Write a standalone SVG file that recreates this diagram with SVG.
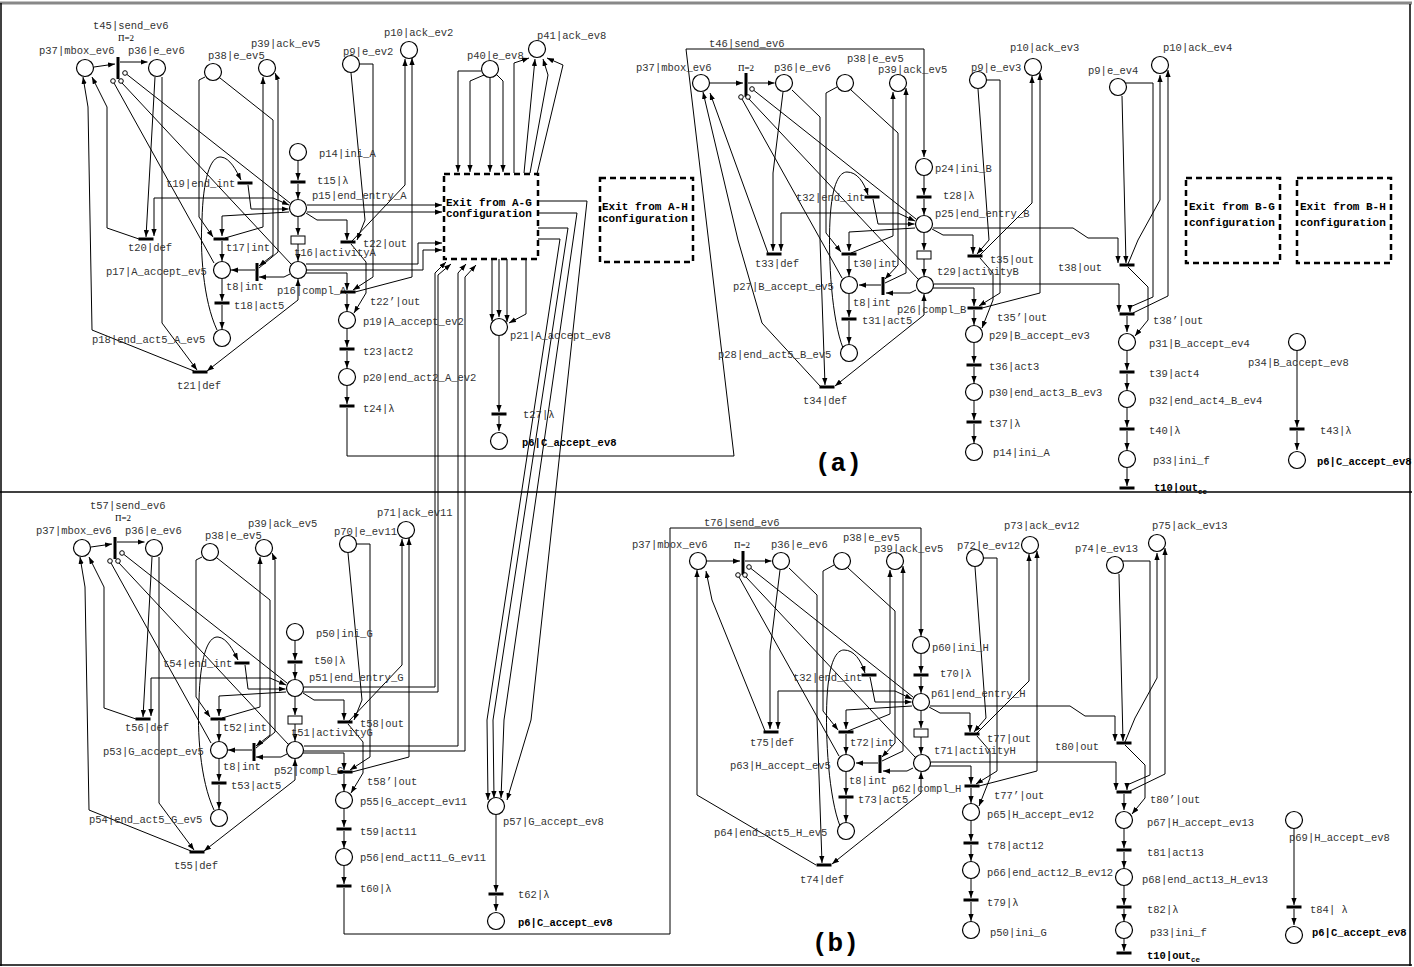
<svg xmlns="http://www.w3.org/2000/svg" width="1414" height="967" viewBox="0 0 1414 967">
<defs>
<marker id="ar" viewBox="0 0 8 6" refX="8" refY="3" markerWidth="7" markerHeight="5.5" markerUnits="userSpaceOnUse" orient="auto"><path d="M0,0L8,3L0,6z" fill="#000"/></marker>
<marker id="as" viewBox="0 0 8 6" refX="8" refY="3" markerWidth="7" markerHeight="5.5" markerUnits="userSpaceOnUse" orient="auto-start-reverse"><path d="M0,0L8,3L0,6z" fill="#000"/></marker>
</defs>
<style>
.c path{fill:none;stroke:#000;stroke-width:1;marker-end:url(#ar)}
.c path.n{marker-end:none}
.c path.aa{marker-start:url(#as)}
circle.p{fill:#fff;stroke:#000;stroke-width:1.2}
circle.i{fill:#fff;stroke:#000;stroke-width:1}
rect.t{fill:#000}
rect.r{fill:#fff;stroke:#000;stroke-width:1}
text{font-family:"Liberation Mono","DejaVu Sans Mono",monospace;font-size:10.5px;fill:#333}
text.b{font-weight:bold;fill:#000}
text.pi{font-family:"Liberation Serif",serif;font-size:9px;fill:#000}
text.x{font-weight:bold;font-size:11px;fill:#000}
text.big{font-weight:bold;font-size:26px;fill:#000}
.box{fill:none;stroke:#000;stroke-width:2.5;stroke-dasharray:6,4}
.fr{stroke:#000;stroke-width:1.5}
</style>
<rect width="1414" height="967" fill="#fff"/>
<g id="frame">
<line x1="0" y1="3" x2="1412" y2="3" stroke="#888" stroke-width="3"/>
<line class="fr" x1="1" y1="3" x2="1" y2="966"/>
<line class="fr" x1="1410" y1="4" x2="1410" y2="966"/>
<line class="fr" x1="0" y1="492" x2="1412" y2="492"/>
<line class="fr" x1="0" y1="965" x2="1412" y2="965"/>
<text class="big" x="815" y="471">(a)</text>
<text class="big" x="812" y="951">(b)</text>
</g>

<g id="connectors" class="c">
<path d="M347,408 L347,456 L734,456 L686,49 L924,49 L924,157"/>
<path d="M344,888 L344,934 L670,934 L670,528 L921,528 L921,636"/>
<path d="M307,205 L442,205"/>
<path d="M307,212 L442,212"/>
<path d="M306,264 L418,264 L418,243 L442,243"/>
<path d="M306,270 L423,270 L423,250 L442,250"/>
<path d="M481,71 L458,71 L458,172"/>
<path d="M484,75 L470,81 L470,172"/>
<path d="M490,78 L490,172"/>
<path d="M497,75 L503,81 L503,172"/>
<path d="M514,173 L514,63 L529,58"/>
<path d="M524,173 L535,59"/>
<path d="M530,173 L548,75 L543,59"/>
<path d="M537,174 L563,65 L547,58"/>
<path d="M492,259 L492,321"/>
<path d="M499,259 L499,317"/>
<path d="M507,259 L507,322"/>
<path d="M526,259 L526,314 L509,323"/>
<path d="M499,336 L499,412"/>
<path d="M499,416 L499,431"/>
<path d="M304,687 L435,687 L435,273 L446,262"/>
<path d="M303,692 L438,692 L438,275 L451,264"/>
<path d="M304,746 L458,746 L458,273 L466,264"/>
<path d="M304,751 L465,751 L465,277 L476,265"/>
<path d="M538,201 L587,201 L531,720 L507,800"/>
<path d="M538,213 L577,213 L504,720 L501,798"/>
<path d="M538,228 L568,228 L493,720 L494,798"/>
<path d="M538,239 L560,239 L487,720 L488,800"/>
</g>

<g id="boxes">
<g id="box-AG"><rect class="box" x="444" y="174" width="94" height="85"/><text class="x" x="446" y="205.5">Exit from A-G</text><text class="x" x="446" y="217">configuration</text></g>
<g id="box-AH"><rect class="box" x="600" y="178" width="93" height="84"/><text class="x" x="602" y="209.5">Exit from A-H</text><text class="x" x="602" y="221.5">configuration</text></g>
<g id="box-BG"><rect class="box" x="1186" y="178" width="94" height="85"/><text class="x" x="1189" y="209.5">Exit from B-G</text><text class="x" x="1189" y="225.5">configuration</text></g>
<g id="box-BH"><rect class="box" x="1297" y="178" width="94" height="85"/><text class="x" x="1300" y="209.5">Exit from B-H</text><text class="x" x="1300" y="225.5">configuration</text></g>
</g>

<!-- NET A -->
<g id="netA">
<g id="A-connectors" class="c">
<path d="M94,67 L115,64"/>
<path d="M120,62 L147.5,62"/>
<path class="n" d="M290,203 L127,74.5"/>
<path class="n" d="M214,263 L114,83"/>
<path class="n" d="M291,264 L122,83"/>
<path d="M155,77 L146,237"/>
<path d="M162,77 L162,323 L197,370"/>
<path d="M139,239 L107,228 L107,107 L92,77"/>
<path d="M194,371 L92,330 L88,107 L83,77"/>
<path d="M205,77 L199,80 L199,217 L213,237"/>
<path d="M220,78 L273,120 L273,255 L259,266"/>
<path d="M225,238 L263,227 L263,77"/>
<path d="M259,268 L278,252 L278,80 L275,73"/>
<path d="M289,212 L222,216 L222,236"/>
<path class="aa" d="M289,205 L273,198 L154,198 L154,236"/>
<path d="M248,185 L251,209 L288.5,209"/>
<path d="M217,330 C203,300 200,250 202,220 C203,180 210,156 221,157 C230,158 236,170 241,180"/>
<path d="M298,161 L298,180"/>
<path d="M298,184 L298,199"/>
<path d="M298,217 L298,235"/>
<path d="M298,244 L298,261"/>
<path d="M290,274 L284,277 L259,277"/>
<path d="M255,270 L231,270"/>
<path d="M222,241 L222,261"/>
<path d="M222,279 L222,301"/>
<path d="M222,305 L222,329"/>
<path class="aa" d="M298,279 L298,300 L207,371"/>
<path d="M351,73 L365,220 L357,240"/>
<path d="M360,64 L373,64 L373,277 L353,290"/>
<path d="M352,241 L405,185 L405,59"/>
<path d="M355,292 L412,277 L412,58"/>
<path d="M306,213 L317,220 L347,220 L347,240"/>
<path d="M351,244 L366,262 L366,293 L354,313"/>
<path d="M306,273 L347,273 L347,290"/>
<path d="M347,294 L347,311"/>
<path d="M347,329 L347,347"/>
<path d="M347,351 L347,368"/>
<path d="M347,386 L347,404"/>
</g>
<g id="A-p37"><circle class="p" cx="85" cy="68" r="8.5"/><text x="39" y="54">p37|mbox_ev6</text></g>
<g id="A-t45"><rect class="t" x="116.5" y="57" width="3" height="22"/><circle class="i" cx="113" cy="81" r="2.3"/><circle class="i" cx="121" cy="81" r="2.3"/><circle class="i" cx="125" cy="73" r="2.3"/><text x="93" y="28.5">t45|send_ev6</text><text class="pi" x="118" y="41">Π=2</text></g>
<g id="A-p36"><circle class="p" cx="157" cy="68" r="8.5"/><text x="128" y="54">p36|e_ev6</text></g>
<g id="A-p38"><circle class="p" cx="213" cy="72" r="8.5"/><text x="208" y="58.5">p38|e_ev5</text></g>
<g id="A-p39"><circle class="p" cx="267" cy="68" r="8.5"/><text x="251" y="46.5">p39|ack_ev5</text></g>
<g id="A-p9"><circle class="p" cx="351" cy="64" r="8.5"/><text x="343" y="54.5">p9|e_ev2</text></g>
<g id="A-p10"><circle class="p" cx="409" cy="50" r="8.5"/><text x="384" y="35.5">p10|ack_ev2</text></g>
<g id="A-p40"><circle class="p" cx="490" cy="69" r="8.5"/><text x="467" y="59">p40|e_ev8</text></g>
<g id="A-p41"><circle class="p" cx="537" cy="49" r="8.5"/><text x="537" y="38.5">p41|ack_ev8</text></g>
<g id="A-p14"><circle class="p" cx="298" cy="152" r="8.5"/><text x="319" y="156.5">p14|ini_A</text></g>
<g id="A-t15"><rect class="t" x="290.5" y="180.5" width="15" height="3"/><text x="317" y="183.5">t15|λ</text></g>
<g id="A-p15"><circle class="p" cx="298" cy="208" r="8.5"/><text x="312" y="198.5">p15|end_entry_A</text></g>
<g id="A-t19"><rect class="t" x="237.5" y="181.5" width="15" height="3"/><text x="166" y="186.5">t19|end_int</text></g>
<g id="A-t20"><rect class="t" x="138.5" y="237.5" width="15" height="3"/><text x="128" y="250.5">t20|def</text></g>
<g id="A-t17"><rect class="t" x="213.5" y="237.5" width="15" height="3"/><text x="226" y="250.5">t17|int</text></g>
<g id="A-t16"><rect class="r" x="291" y="236" width="14" height="8"/><text x="294" y="255.5">t16|activityA</text></g>
<g id="A-t22"><rect class="t" x="340.5" y="240.5" width="15" height="3"/><text x="363" y="246.5">t22|out</text></g>
<g id="A-p17"><circle class="p" cx="222" cy="270" r="8.5"/><text x="106" y="274.5">p17|A_accept_ev5</text></g>
<g id="A-t8"><rect class="t" x="255.5" y="263" width="3" height="18"/><text x="226" y="289.5">t8|int</text></g>
<g id="A-p16"><circle class="p" cx="298" cy="270" r="8.5"/><text x="277" y="293.5">p16|compl_A</text></g>
<g id="A-t22p"><rect class="t" x="340.5" y="290.5" width="15" height="3"/><text x="370" y="304.5">t22’|out</text></g>
<g id="A-t18"><rect class="t" x="214.5" y="301.5" width="15" height="3"/><text x="234" y="308.5">t18|act5</text></g>
<g id="A-p18"><circle class="p" cx="222" cy="338" r="8.5"/><text x="92" y="342.5">p18|end_act5_A_ev5</text></g>
<g id="A-t21"><rect class="t" x="192.5" y="370.5" width="15" height="3"/><text x="177" y="388.5">t21|def</text></g>
<g id="A-p19"><circle class="p" cx="347" cy="320" r="8.5"/><text x="363" y="324.5">p19|A_accept_ev2</text></g>
<g id="A-t23"><rect class="t" x="339.5" y="347.5" width="15" height="3"/><text x="363" y="354.5">t23|act2</text></g>
<g id="A-p20"><circle class="p" cx="347" cy="377" r="8.5"/><text x="363" y="380.5">p20|end_act2_A_ev2</text></g>
<g id="A-t24"><rect class="t" x="339.5" y="404.5" width="15" height="3"/><text x="363" y="411.5">t24|λ</text></g>
<g id="A-p21"><circle class="p" cx="499" cy="327" r="8.5"/><text x="510" y="338.5">p21|A_accept_ev8</text></g>
<g id="A-t27"><rect class="t" x="491.5" y="412.5" width="15" height="3"/><text x="523" y="417.5">t27|λ</text></g>
<g id="A-p6"><circle class="p" cx="499" cy="441" r="8.5"/><text class="b" x="522" y="445.5">p6|C_accept_ev8</text></g>
</g>

<!-- NET G -->
<g id="netG" transform="translate(-3,480)">
<g id="G-connectors" class="c">
<path d="M94,67 L115,64"/>
<path d="M120,62 L147.5,62"/>
<path class="n" d="M290,203 L127,74.5"/>
<path class="n" d="M214,263 L114,83"/>
<path class="n" d="M291,264 L122,83"/>
<path d="M155,77 L146,237"/>
<path d="M162,77 L162,323 L197,370"/>
<path d="M139,239 L107,228 L107,107 L92,77"/>
<path d="M194,371 L92,330 L88,107 L83,77"/>
<path d="M205,77 L199,80 L199,217 L213,237"/>
<path d="M220,78 L273,120 L273,255 L259,266"/>
<path d="M225,238 L263,227 L263,77"/>
<path d="M259,268 L278,252 L278,80 L275,73"/>
<path d="M289,212 L222,216 L222,236"/>
<path class="aa" d="M289,205 L273,198 L154,198 L154,236"/>
<path d="M248,185 L251,209 L288.5,209"/>
<path d="M217,330 C203,300 200,250 202,220 C203,180 210,156 221,157 C230,158 236,170 241,180"/>
<path d="M298,161 L298,180"/>
<path d="M298,184 L298,199"/>
<path d="M298,217 L298,235"/>
<path d="M298,244 L298,261"/>
<path d="M290,274 L284,277 L259,277"/>
<path d="M255,270 L231,270"/>
<path d="M222,241 L222,261"/>
<path d="M222,279 L222,301"/>
<path d="M222,305 L222,329"/>
<path class="aa" d="M298,279 L298,300 L207,371"/>
<path d="M351,73 L365,220 L357,240"/>
<path d="M360,64 L373,64 L373,277 L353,290"/>
<path d="M352,241 L405,185 L405,59"/>
<path d="M355,292 L412,277 L412,58"/>
<path d="M306,213 L317,220 L347,220 L347,240"/>
<path d="M351,244 L366,262 L366,293 L354,313"/>
<path d="M306,273 L347,273 L347,290"/>
<path d="M347,294 L347,311"/>
<path d="M347,329 L347,347"/>
<path d="M347,351 L347,368"/>
<path d="M347,386 L347,404"/>
<path d="M499,335 L499,412"/>
<path d="M499,416 L499,431"/>
</g>
<g id="G-p37"><circle class="p" cx="85" cy="68" r="8.5"/><text x="39" y="54">p37|mbox_ev6</text></g>
<g id="G-t57"><rect class="t" x="116.5" y="57" width="3" height="22"/><circle class="i" cx="113" cy="81" r="2.3"/><circle class="i" cx="121" cy="81" r="2.3"/><circle class="i" cx="125" cy="73" r="2.3"/><text x="93" y="28.5">t57|send_ev6</text><text class="pi" x="118" y="41">Π=2</text></g>
<g id="G-p36"><circle class="p" cx="157" cy="68" r="8.5"/><text x="128" y="54">p36|e_ev6</text></g>
<g id="G-p38"><circle class="p" cx="213" cy="72" r="8.5"/><text x="208" y="58.5">p38|e_ev5</text></g>
<g id="G-p39"><circle class="p" cx="267" cy="68" r="8.5"/><text x="251" y="46.5">p39|ack_ev5</text></g>
<g id="G-p70"><circle class="p" cx="351" cy="64" r="8.5"/><text x="337" y="54.5">p70|e_ev11</text></g>
<g id="G-p71"><circle class="p" cx="409" cy="50" r="8.5"/><text x="380" y="35.5">p71|ack_ev11</text></g>
<g id="G-p50"><circle class="p" cx="298" cy="152" r="8.5"/><text x="319" y="156.5">p50|ini_G</text></g>
<g id="G-t50"><rect class="t" x="290.5" y="180.5" width="15" height="3"/><text x="317" y="183.5">t50|λ</text></g>
<g id="G-p51"><circle class="p" cx="298" cy="208" r="8.5"/><text x="312" y="200.5">p51|end_entry_G</text></g>
<g id="G-t54"><rect class="t" x="237.5" y="181.5" width="15" height="3"/><text x="166" y="186.5">t54|end_int</text></g>
<g id="G-t56"><rect class="t" x="138.5" y="237.5" width="15" height="3"/><text x="128" y="250.5">t56|def</text></g>
<g id="G-t52"><rect class="t" x="213.5" y="237.5" width="15" height="3"/><text x="226" y="250.5">t52|int</text></g>
<g id="G-t51"><rect class="r" x="291" y="236" width="14" height="8"/><text x="294" y="255.5">t51|activityG</text></g>
<g id="G-t58"><rect class="t" x="340.5" y="240.5" width="15" height="3"/><text x="363" y="246.5">t58|out</text></g>
<g id="G-p53"><circle class="p" cx="222" cy="270" r="8.5"/><text x="106" y="274.5">p53|G_accept_ev5</text></g>
<g id="G-t8"><rect class="t" x="255.5" y="263" width="3" height="18"/><text x="226" y="289.5">t8|int</text></g>
<g id="G-p52"><circle class="p" cx="298" cy="270" r="8.5"/><text x="277" y="293.5">p52|compl_G</text></g>
<g id="G-t58p"><rect class="t" x="340.5" y="290.5" width="15" height="3"/><text x="370" y="304.5">t58’|out</text></g>
<g id="G-t53"><rect class="t" x="214.5" y="301.5" width="15" height="3"/><text x="234" y="308.5">t53|act5</text></g>
<g id="G-p54"><circle class="p" cx="222" cy="338" r="8.5"/><text x="92" y="342.5">p54|end_act5_G_ev5</text></g>
<g id="G-t55"><rect class="t" x="192.5" y="370.5" width="15" height="3"/><text x="177" y="388.5">t55|def</text></g>
<g id="G-p55"><circle class="p" cx="347" cy="320" r="8.5"/><text x="363" y="324.5">p55|G_accept_ev11</text></g>
<g id="G-t59"><rect class="t" x="339.5" y="347.5" width="15" height="3"/><text x="363" y="354.5">t59|act11</text></g>
<g id="G-p56"><circle class="p" cx="347" cy="377" r="8.5"/><text x="363" y="380.5">p56|end_act11_G_ev11</text></g>
<g id="G-t60"><rect class="t" x="339.5" y="404.5" width="15" height="3"/><text x="363" y="411.5">t60|λ</text></g>
<g id="G-p57"><circle class="p" cx="499" cy="326" r="8.5"/><text x="506" y="345">p57|G_accept_ev8</text></g>
<g id="G-t62"><rect class="t" x="491.5" y="412.5" width="15" height="3"/><text x="521" y="417.5">t62|λ</text></g>
<g id="G-p6"><circle class="p" cx="499" cy="441" r="8.5"/><text class="b" x="521" y="445.5">p6|C_accept_ev8</text></g>
</g>

<!-- NET B -->
<g id="netB">
<g id="B-connectors" class="c">
<path d="M710,83 L743,83"/>
<path d="M748,83 L774.5,83"/>
<path class="n" d="M916,219 L754,90.5"/>
<path class="n" d="M842,278 L742,99"/>
<path class="n" d="M918,279 L749,99"/>
<path d="M783,92 L773,173 L773,251"/>
<path class="aa" d="M915,221 L898,213 L781,213 L781,251"/>
<path d="M768,253 L710,93"/>
<path d="M820,386 L762,323 L738,240 L703,92"/>
<path d="M792,90 L820,117 L820,240 L825,385"/>
<path d="M837,87 L826,93 L826,233 L841,252"/>
<path d="M851,90 L898,133 L898,265 L885,279"/>
<path d="M851,253 L893,236 L893,92"/>
<path d="M885,283 L906,273 L906,88"/>
<path d="M915,228 L849,232 L849,251"/>
<path d="M873,199 L878,224 L914.5,224"/>
<path d="M843,348 C832,320 828,260 830,220 C832,182 840,172 847,172 C857,172 864,182 868,195"/>
<path d="M924,176 L924,195"/>
<path d="M924,199 L924,215"/>
<path d="M924,233 L924,250"/>
<path d="M924,259 L924,276"/>
<path d="M916,290 L910,293 L886,293"/>
<path d="M881,285 L859,285"/>
<path d="M849,256 L849,276"/>
<path d="M849,294 L849,317"/>
<path d="M849,321 L849,344"/>
<path class="aa" d="M924,294 L924,315 L835,386"/>
<path d="M978,89 L989,240 L977,254"/>
<path d="M987,80 L1000,80 L1000,293 L979,306"/>
<path d="M979,256 L1032,203 L1032,76"/>
<path d="M982,308 L1040,293 L1040,73"/>
<path d="M932,229 L943,235 L973,235 L973,254"/>
<path d="M980,258 L993,273 L993,300 L982,328"/>
<path d="M933,288 L974,288 L974,306"/>
<path d="M974,310 L974,325"/>
<path d="M974,343 L974,363"/>
<path d="M974,367 L974,383"/>
<path d="M974,401 L974,420"/>
<path d="M974,424 L974,443"/>
<path d="M933,228 L1073,228 L1088,238 L1118,238 L1118,263"/>
<path d="M934,284 L1119,284 L1119,312"/>
<path d="M1122,96 L1126,263"/>
<path d="M1126,83 L1153,83 L1153,297 L1130,307 L1130,312"/>
<path d="M1128,264 L1138,240 L1160,200 L1160,75"/>
<path d="M1133,313 L1168,296 L1168,70"/>
<path d="M1128,267 L1148,287 L1148,320 L1135,336"/>
<path d="M1127,316 L1127,332"/>
<path d="M1127,351 L1127,370"/>
<path d="M1127,374 L1127,390"/>
<path d="M1127,408 L1127,427"/>
<path d="M1127,431 L1127,450"/>
<path d="M1127,468 L1127,486"/>
<path d="M1297,351 L1297,427"/>
<path d="M1297,431 L1297,450"/>
</g>
<g id="B-p37"><circle class="p" cx="701" cy="83" r="8.5"/><text x="636" y="70.5">p37|mbox_ev6</text></g>
<g id="B-t46"><rect class="t" x="744.5" y="73" width="3" height="24"/><circle class="i" cx="741" cy="97" r="2.3"/><circle class="i" cx="748" cy="97" r="2.3"/><circle class="i" cx="752" cy="89" r="2.3"/><text x="709" y="46.5">t46|send_ev6</text><text class="pi" x="738" y="70.5">Π=2</text></g>
<g id="B-p36"><circle class="p" cx="784" cy="83" r="8.5"/><text x="774" y="70.5">p36|e_ev6</text></g>
<g id="B-p38"><circle class="p" cx="845" cy="83" r="8.5"/><text x="847" y="61.5">p38|e_ev5</text></g>
<g id="B-p39"><circle class="p" cx="898" cy="83" r="8.5"/><text x="878" y="72.5">p39|ack_ev5</text></g>
<g id="B-p9"><circle class="p" cx="978" cy="80" r="8.5"/><text x="971" y="70.5">p9|e_ev3</text></g>
<g id="B-p10"><circle class="p" cx="1033" cy="67" r="8.5"/><text x="1010" y="50.5">p10|ack_ev3</text></g>
<g id="B-p24"><circle class="p" cx="924" cy="167" r="8.5"/><text x="935" y="171.5">p24|ini_B</text></g>
<g id="B-t28"><rect class="t" x="916.5" y="195.5" width="15" height="3"/><text x="943" y="198.5">t28|λ</text></g>
<g id="B-p25"><circle class="p" cx="924" cy="224" r="8.5"/><text x="935" y="216.5">p25|end_entry_B</text></g>
<g id="B-t32"><rect class="t" x="864.5" y="195.5" width="15" height="3"/><text x="796" y="200.5">t32|end_int</text></g>
<g id="B-t33"><rect class="t" x="766.5" y="252.5" width="15" height="3"/><text x="755" y="266.5">t33|def</text></g>
<g id="B-t30"><rect class="t" x="841.5" y="252.5" width="15" height="3"/><text x="853" y="266.5">t30|int</text></g>
<g id="B-t29"><rect class="r" x="917" y="251" width="14" height="8"/><text x="937" y="274.5">t29|activityB</text></g>
<g id="B-t35"><rect class="t" x="967.5" y="254.5" width="15" height="3"/><text x="990" y="262.5">t35|out</text></g>
<g id="B-p27"><circle class="p" cx="849" cy="285" r="8.5"/><text x="733" y="289.5">p27|B_accept_ev5</text></g>
<g id="B-t8"><rect class="t" x="881.5" y="277" width="3" height="18"/><text x="853" y="305.5">t8|int</text></g>
<g id="B-p26"><circle class="p" cx="925" cy="285" r="8.5"/><text x="897" y="312.5">p26|compl_B</text></g>
<g id="B-t35p"><rect class="t" x="967.5" y="306.5" width="15" height="3"/><text x="997" y="320.5">t35’|out</text></g>
<g id="B-t31"><rect class="t" x="841.5" y="317.5" width="15" height="3"/><text x="862" y="323.5">t31|act5</text></g>
<g id="B-p28"><circle class="p" cx="849" cy="353" r="8.5"/><text x="718" y="357.5">p28|end_act5_B_ev5</text></g>
<g id="B-t34"><rect class="t" x="819.5" y="385.5" width="15" height="3"/><text x="803" y="403.5">t34|def</text></g>
<g id="B-p29"><circle class="p" cx="974" cy="334" r="8.5"/><text x="989" y="338.5">p29|B_accept_ev3</text></g>
<g id="B-t36"><rect class="t" x="966.5" y="363.5" width="15" height="3"/><text x="989" y="369.5">t36|act3</text></g>
<g id="B-p30"><circle class="p" cx="974" cy="392" r="8.5"/><text x="989" y="395.5">p30|end_act3_B_ev3</text></g>
<g id="B-t37"><rect class="t" x="966.5" y="420.5" width="15" height="3"/><text x="989" y="426.5">t37|λ</text></g>
<g id="B-p14"><circle class="p" cx="974" cy="452" r="8.5"/><text x="993" y="455.5">p14|ini_A</text></g>
<g id="B-p9e4"><circle class="p" cx="1118" cy="87" r="8.5"/><text x="1088" y="73.5">p9|e_ev4</text></g>
<g id="B-p10e4"><circle class="p" cx="1160" cy="65" r="8.5"/><text x="1163" y="50.5">p10|ack_ev4</text></g>
<g id="B-t38"><rect class="t" x="1119.5" y="263.5" width="15" height="3"/><text x="1058" y="270.5">t38|out</text></g>
<g id="B-t38p"><rect class="t" x="1119.5" y="312.5" width="15" height="3"/><text x="1153" y="323.5">t38’|out</text></g>
<g id="B-p31"><circle class="p" cx="1127" cy="342" r="8.5"/><text x="1149" y="346.5">p31|B_accept_ev4</text></g>
<g id="B-t39"><rect class="t" x="1119.5" y="370.5" width="15" height="3"/><text x="1149" y="376.5">t39|act4</text></g>
<g id="B-p32"><circle class="p" cx="1127" cy="399" r="8.5"/><text x="1149" y="403.5">p32|end_act4_B_ev4</text></g>
<g id="B-t40"><rect class="t" x="1119.5" y="427.5" width="15" height="3"/><text x="1149" y="433.5">t40|λ</text></g>
<g id="B-p33"><circle class="p" cx="1127" cy="459" r="8.5"/><text x="1153" y="463.5">p33|ini_f</text></g>
<g id="B-t10"><rect class="t" x="1119.5" y="486.5" width="15" height="3"/><text class="b" x="1154" y="490.5">t10|out<tspan font-size="7.5px" dy="3">ce</tspan></text></g>
<g id="B-p34"><circle class="p" cx="1297" cy="342" r="8.5"/><text x="1248" y="365.5">p34|B_accept_ev8</text></g>
<g id="B-t43"><rect class="t" x="1289.5" y="427.5" width="15" height="3"/><text x="1320" y="433.5">t43|λ</text></g>
<g id="B-p6"><circle class="p" cx="1297" cy="460" r="8.5"/><text class="b" x="1317" y="464.5">p6|C_accept_ev8</text></g>
</g>

<!-- NET H -->
<g id="netH" transform="translate(-3,478)">
<g id="H-connectors" class="c">
<path d="M710,83 L743,83"/>
<path d="M748,83 L774.5,83"/>
<path class="n" d="M916,219 L754,90.5"/>
<path class="n" d="M842,278 L742,99"/>
<path class="n" d="M918,279 L749,99"/>
<path d="M783,92 L773,173 L773,251"/>
<path class="aa" d="M915,221 L898,213 L781,213 L781,251"/>
<path d="M768,253 L715,122 L709,93"/>
<path d="M819,387 L700,317 L700,92"/>
<path d="M792,90 L820,117 L820,240 L825,385"/>
<path d="M837,87 L826,93 L826,233 L841,252"/>
<path d="M851,90 L898,133 L898,265 L885,279"/>
<path d="M851,253 L893,236 L893,92"/>
<path d="M885,283 L906,273 L906,88"/>
<path d="M915,228 L849,232 L849,251"/>
<path d="M873,199 L878,224 L914.5,224"/>
<path d="M843,348 C832,320 828,260 830,220 C832,182 840,172 847,172 C857,172 864,182 868,195"/>
<path d="M924,176 L924,195"/>
<path d="M924,199 L924,215"/>
<path d="M924,233 L924,250"/>
<path d="M924,259 L924,276"/>
<path d="M916,290 L910,293 L886,293"/>
<path d="M881,285 L859,285"/>
<path d="M849,256 L849,276"/>
<path d="M849,294 L849,317"/>
<path d="M849,321 L849,344"/>
<path class="aa" d="M924,294 L924,315 L835,386"/>
<path d="M978,89 L989,240 L977,254"/>
<path d="M987,80 L1000,80 L1000,293 L979,306"/>
<path d="M979,256 L1032,203 L1032,76"/>
<path d="M982,308 L1040,293 L1040,73"/>
<path d="M932,229 L943,235 L973,235 L973,254"/>
<path d="M980,258 L993,273 L993,300 L982,328"/>
<path d="M933,288 L974,288 L974,306"/>
<path d="M974,310 L974,325"/>
<path d="M974,343 L974,363"/>
<path d="M974,367 L974,383"/>
<path d="M974,401 L974,420"/>
<path d="M974,424 L974,443"/>
<path d="M933,228 L1073,228 L1088,238 L1118,238 L1118,263"/>
<path d="M934,284 L1119,284 L1119,312"/>
<path d="M1122,96 L1126,263"/>
<path d="M1126,83 L1153,83 L1153,297 L1130,307 L1130,312"/>
<path d="M1128,264 L1138,240 L1160,200 L1160,75"/>
<path d="M1133,313 L1168,296 L1168,70"/>
<path d="M1128,267 L1148,287 L1148,320 L1135,336"/>
<path d="M1127,316 L1127,332"/>
<path d="M1127,351 L1127,370"/>
<path d="M1127,374 L1127,390"/>
<path d="M1127,408 L1127,427"/>
<path d="M1127,431 L1127,443"/>
<path d="M1127,461 L1127,473"/>
<path d="M1297,351 L1297,427"/>
<path d="M1297,431 L1297,447"/>
</g>
<g id="H-p37"><circle class="p" cx="701" cy="83" r="8.5"/><text x="635" y="69.5">p37|mbox_ev6</text></g>
<g id="H-t76"><rect class="t" x="744.5" y="73" width="3" height="24"/><circle class="i" cx="741" cy="97" r="2.3"/><circle class="i" cx="748" cy="97" r="2.3"/><circle class="i" cx="752" cy="89" r="2.3"/><text x="707" y="47.5">t76|send_ev6</text><text class="pi" x="737" y="69.5">Π=2</text></g>
<g id="H-p36"><circle class="p" cx="784" cy="83" r="8.5"/><text x="774" y="69.5">p36|e_ev6</text></g>
<g id="H-p38"><circle class="p" cx="845" cy="83" r="8.5"/><text x="846" y="62.5">p38|e_ev5</text></g>
<g id="H-p39"><circle class="p" cx="898" cy="83" r="8.5"/><text x="877" y="73.5">p39|ack_ev5</text></g>
<g id="H-p72"><circle class="p" cx="978" cy="80" r="8.5"/><text x="960" y="70.5">p72|e_ev12</text></g>
<g id="H-p73"><circle class="p" cx="1033" cy="67" r="8.5"/><text x="1007" y="50.5">p73|ack_ev12</text></g>
<g id="H-p60"><circle class="p" cx="924" cy="167" r="8.5"/><text x="935" y="172.5">p60|ini_H</text></g>
<g id="H-t70"><rect class="t" x="916.5" y="195.5" width="15" height="3"/><text x="943" y="198.5">t70|λ</text></g>
<g id="H-p61"><circle class="p" cx="924" cy="224" r="8.5"/><text x="934" y="218.5">p61|end_entry_H</text></g>
<g id="H-t32"><rect class="t" x="864.5" y="195.5" width="15" height="3"/><text x="796" y="202.5">t32|end_int</text></g>
<g id="H-t75"><rect class="t" x="766.5" y="252.5" width="15" height="3"/><text x="753" y="267.5">t75|def</text></g>
<g id="H-t72"><rect class="t" x="841.5" y="252.5" width="15" height="3"/><text x="853" y="267.5">t72|int</text></g>
<g id="H-t71"><rect class="r" x="917" y="251" width="14" height="8"/><text x="937" y="275.5">t71|activityH</text></g>
<g id="H-t77"><rect class="t" x="967.5" y="254.5" width="15" height="3"/><text x="990" y="263.5">t77|out</text></g>
<g id="H-p63"><circle class="p" cx="849" cy="285" r="8.5"/><text x="733" y="290.5">p63|H_accept_ev5</text></g>
<g id="H-t8"><rect class="t" x="881.5" y="277" width="3" height="18"/><text x="852" y="305.5">t8|int</text></g>
<g id="H-p62"><circle class="p" cx="925" cy="285" r="8.5"/><text x="895" y="313.5">p62|compl_H</text></g>
<g id="H-t77p"><rect class="t" x="967.5" y="306.5" width="15" height="3"/><text x="997" y="320.5">t77’|out</text></g>
<g id="H-t73"><rect class="t" x="841.5" y="317.5" width="15" height="3"/><text x="861" y="324.5">t73|act5</text></g>
<g id="H-p64"><circle class="p" cx="849" cy="353" r="8.5"/><text x="717" y="357.5">p64|end_act5_H_ev5</text></g>
<g id="H-t74"><rect class="t" x="819.5" y="385.5" width="15" height="3"/><text x="803" y="404.5">t74|def</text></g>
<g id="H-p65"><circle class="p" cx="974" cy="334" r="8.5"/><text x="990" y="339.5">p65|H_accept_ev12</text></g>
<g id="H-t78"><rect class="t" x="966.5" y="363.5" width="15" height="3"/><text x="990" y="370.5">t78|act12</text></g>
<g id="H-p66"><circle class="p" cx="974" cy="392" r="8.5"/><text x="990" y="397.5">p66|end_act12_B_ev12</text></g>
<g id="H-t79"><rect class="t" x="966.5" y="420.5" width="15" height="3"/><text x="990" y="427.5">t79|λ</text></g>
<g id="H-p50"><circle class="p" cx="974" cy="452" r="8.5"/><text x="993" y="457.5">p50|ini_G</text></g>
<g id="H-p74"><circle class="p" cx="1118" cy="87" r="8.5"/><text x="1078" y="73.5">p74|e_ev13</text></g>
<g id="H-p75"><circle class="p" cx="1160" cy="65" r="8.5"/><text x="1155" y="50.5">p75|ack_ev13</text></g>
<g id="H-t80"><rect class="t" x="1119.5" y="263.5" width="15" height="3"/><text x="1058" y="271.5">t80|out</text></g>
<g id="H-t80p"><rect class="t" x="1119.5" y="312.5" width="15" height="3"/><text x="1153" y="324.5">t80’|out</text></g>
<g id="H-p67"><circle class="p" cx="1127" cy="342" r="8.5"/><text x="1150" y="347.5">p67|H_accept_ev13</text></g>
<g id="H-t81"><rect class="t" x="1119.5" y="370.5" width="15" height="3"/><text x="1150" y="377.5">t81|act13</text></g>
<g id="H-p68"><circle class="p" cx="1127" cy="399" r="8.5"/><text x="1145" y="404.5">p68|end_act13_H_ev13</text></g>
<g id="H-t82"><rect class="t" x="1119.5" y="427.5" width="15" height="3"/><text x="1150" y="434.5">t82|λ</text></g>
<g id="H-p33"><circle class="p" cx="1127" cy="452" r="8.5"/><text x="1153" y="457.5">p33|ini_f</text></g>
<g id="H-t10"><rect class="t" x="1119.5" y="473.5" width="15" height="3"/><text class="b" x="1150" y="480.5">t10|out<tspan font-size="7.5px" dy="3">ce</tspan></text></g>
<g id="H-p69"><circle class="p" cx="1297" cy="342" r="8.5"/><text x="1292" y="362.5">p69|H_accept_ev8</text></g>
<g id="H-t84"><rect class="t" x="1289.5" y="427.5" width="15" height="3"/><text x="1313" y="434.5">t84| λ</text></g>
<g id="H-p6"><circle class="p" cx="1297" cy="457" r="8.5"/><text class="b" x="1315" y="457.5">p6|C_accept_ev8</text></g>
</g>
</svg>
